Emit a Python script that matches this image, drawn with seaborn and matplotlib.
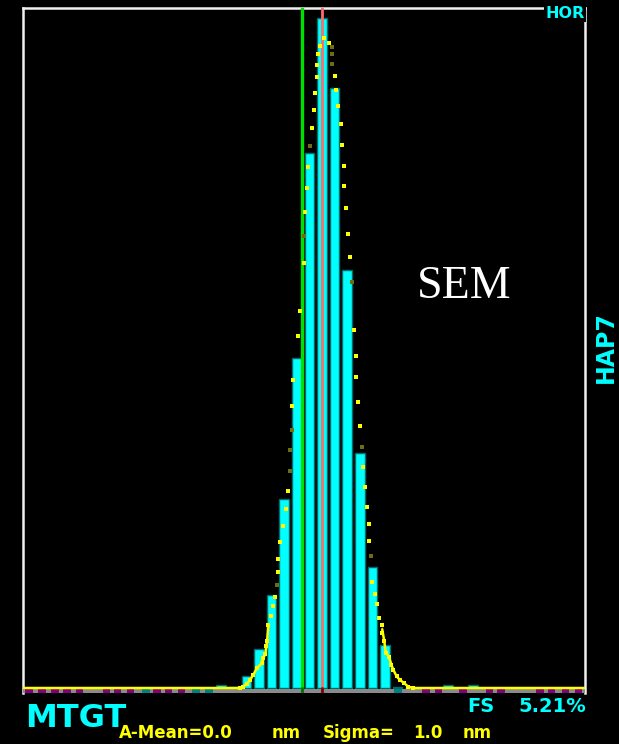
import numpy as np
import matplotlib
matplotlib.use("Agg")
import matplotlib.pyplot as plt
import seaborn as sns

# Histogram of measured deviations (nm), bar heights in % of samples
bin_centers = [-4.0, -3.5, -3.0, -2.5, -2.0, -1.5, -1.0, -0.5, 0.0, 0.5,
               1.0, 1.5, 2.0, 2.5, 3.0, 5.0, 6.0]
bin_pct = [0.02, 0.01, 0.09, 0.30, 0.71, 1.45, 2.53, 4.10, 5.13, 4.60,
           3.20, 1.80, 0.93, 0.33, 0.01, 0.02, 0.02]

# Fitted distribution, drawn as dots
fit_x = [-3.25, -3.15, -2.99, -2.86, -2.73, -2.59, -2.39, -2.33, -2.25, -2.21, -2.18,
         -2.13, -2.04, -1.94, -1.85, -1.75, -1.75, -1.67, -1.56, -1.44, -1.34,
         -1.20, -1.14, -0.94, -0.88, -0.70, -0.67, -0.61, -0.54, -0.41, -0.33,
         -0.27, -0.21, -0.21, -0.15, -0.08, 0.09, 0.28, 0.50, 0.54, 0.65, 0.74,
         0.81, 0.88, 0.88, 0.95, 1.04, 1.11, 1.27, 1.34, 1.34, 1.43, 1.50, 1.63,
         1.71, 1.80, 1.88, 1.88, 2.00, 2.09, 2.18, 2.27, 2.39, 2.39, 2.47, 2.53,
         2.66, 2.75, 2.83, 2.96, 3.10, 3.25, 3.42, 3.62]
fit_y = [0.00, 0.01, 0.03, 0.06, 0.10, 0.15, 0.19, 0.23, 0.26, 0.32, 0.36,
         0.48, 0.55, 0.63, 0.70, 0.89, 0.99, 1.12, 1.24, 1.37, 1.51,
         2.16, 2.36, 2.70, 2.89, 3.26, 3.65, 3.83, 3.99, 4.29, 4.43,
         4.56, 4.68, 4.77, 4.86, 4.92, 4.98, 4.94, 4.69, 4.58, 4.46, 4.32,
         4.16, 4.00, 3.85, 3.68, 3.48, 3.30, 2.74, 2.54, 2.38, 2.19, 2.01, 1.69,
         1.54, 1.39, 1.26, 1.13, 0.81, 0.72, 0.64, 0.54, 0.48, 0.42, 0.36, 0.27,
         0.24, 0.18, 0.14, 0.09, 0.06, 0.04, 0.01, 0.00]
fit_dim_x = [-1.79, -1.26, -1.26, -1.20, -0.70, -0.48, 0.38, 0.38, 0.38, 1.18, 1.58, 1.94]
fit_dim_y = [0.79, 1.66, 1.82, 1.98, 3.46, 4.15, 4.91, 4.86, 4.78, 3.11, 1.85, 1.01]

mean_nm = 0.0
target_nm = -0.8
full_scale_pct = 5.21
x_range = (-11.87, 10.44)

# Scale ruler marks under the baseline
ruler_purple = [-11.63, -11.11, -10.60, -10.12, -9.62, -8.55, -8.12, -7.60, -6.55,
                -6.09, -5.58, 4.13, 4.62, 5.60, 6.65, 7.10, 8.65, 9.11, 9.66, 10.18]
ruler_teal = [-7.0, -5.0, -4.5, 3.0]

sns.set_theme(style="dark", rc={
    "axes.facecolor": "black",
    "figure.facecolor": "black",
    "axes.grid": False,
})
plt.rcParams["font.family"] = ["DejaVu Sans"]

fig = plt.figure(figsize=(6.19, 7.44), dpi=100, facecolor="black")
ax = fig.add_axes([23 / 619, 1 - 693 / 744, 562 / 619, 685 / 744])

ax.set_xlim(*x_range)
ymin = -0.0383
ax.set_ylim(ymin, full_scale_pct)

# histogram bars
sns.histplot(x=bin_centers, weights=bin_pct, binwidth=0.5, binrange=(-4.25, 6.25),
             shrink=0.76, color="#00ffff", edgecolor="#006d6d", linewidth=1.0,
             alpha=1.0, ax=ax, zorder=2)

# ruler strip below the baseline
ax.axhspan(ymin, -0.0085, color="#8a8a8a", zorder=3, lw=0)
ax.broken_barh([(c - 0.15, 0.30) for c in ruler_purple], (ymin, 0.0298),
               facecolor="#800080", lw=0, zorder=4)
ax.broken_barh([(c - 0.16, 0.32) for c in ruler_teal], (ymin, 0.0298),
               facecolor="#008080", lw=0, zorder=4)

# target and mean markers
ax.axvline(target_nm, ymin=0.0071, ymax=1.0, color="#00e000", lw=2.4, zorder=5)
ax.axvline(mean_nm, ymin=0.0071, ymax=1.0, color="#ff6a6a", lw=2.0, zorder=5)
ax.axvline(target_nm, ymin=0, ymax=0.0071, color="#007000", lw=2.0, zorder=5)
ax.axvline(mean_nm, ymin=0, ymax=0.0071, color="#800000", lw=2.0, zorder=5)

# fitted curve: flat tails as a line, body as dots
fx = np.array(fit_x)
fy = np.array(fit_y)
left = (fx < -2.1)
right = (fx > 2.35)
sns.lineplot(x=np.r_[x_range[0], fx[left]], y=np.r_[0.0, fy[left]], sort=False,
             color="#ffff00", lw=1.8, ax=ax, zorder=6)
sns.lineplot(x=np.r_[fx[right], x_range[1]], y=np.r_[fy[right], 0.0], sort=False,
             color="#ffff00", lw=1.8, ax=ax, zorder=6)
sns.scatterplot(x=fit_x, y=fit_y, marker="s", s=6, color="#ffff00", linewidth=0,
                ax=ax, zorder=7)
sns.scatterplot(x=fit_dim_x, y=fit_dim_y, marker="s", s=8, color="#6e6e10", linewidth=0,
                ax=ax, zorder=7)

# frame
for side in ("left", "top", "right"):
    ax.spines[side].set_visible(True)
    ax.spines[side].set_color("#f0f0f0")
    ax.spines[side].set_linewidth(1.8)
ax.spines["bottom"].set_visible(False)
ax.set_xticks([])
ax.set_yticks([])
ax.set_xlabel("")
ax.set_ylabel("")

W, H = 619, 744
def px(x, y):
    return x / W, 1 - y / H

cyan = "#00ffff"
fig.text(*px(585, 6), "HOR", color=cyan, fontsize=11.5, fontweight="bold",
         ha="right", va="top", bbox=dict(facecolor="black", edgecolor="none", pad=1.0),
         zorder=10)
fig.text(*px(606, 347), "HAP7", color=cyan, fontsize=17, fontweight="bold",
         rotation=90, ha="center", va="center")
fig.text(*px(417, 298), "SEM", color="white", fontsize=33,
         family="Liberation Serif", ha="left", va="baseline")
fig.text(*px(25, 727), "MTGT", color=cyan, fontsize=23, fontweight="bold",
         ha="left", va="baseline")
fig.text(*px(467, 712), "FS", color=cyan, fontsize=14, fontweight="bold",
         ha="left", va="baseline")
fig.text(*px(586, 712), "5.21%", color=cyan, fontsize=14, fontweight="bold",
         ha="right", va="baseline")

yellow = "#ffff00"
for xpos, word in [(119, "A-Mean=0.0"), (272, "nm"), (323, "Sigma="),
                   (413, "1.0"), (463, "nm")]:
    fig.text(*px(xpos, 738), word, color=yellow, fontsize=12, fontweight="bold",
             ha="left", va="baseline")

fig.savefig("out.png", dpi=100, facecolor="black")
